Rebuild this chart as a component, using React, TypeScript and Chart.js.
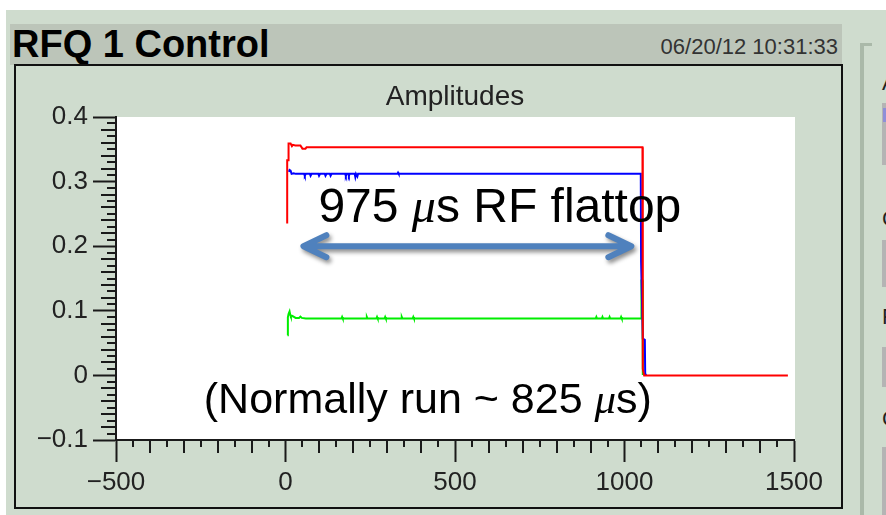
import React, { useEffect, useRef } from "react";
import { Chart, registerables } from "chart.js";

Chart.register(...registerables);

// ---------------- data ----------------
const redTime = [5, 5, 9, 9, 15, 19, 22, 29, 44, 50, 59, 62, 1053, 1054, 1058, 1482];
const redAmp = [0.235, 0.333, 0.333, 0.359, 0.359, 0.355, 0.357, 0.356, 0.356, 0.351, 0.351, 0.353, 0.353, 0.01, 0, 0];

const blueTime = [10, 12, 15, 18, 24, 30, 55, 57, 60, 72, 74, 77, 97, 99, 102, 116, 118, 121, 131, 133, 136, 176, 178, 180, 185, 187, 189, 204, 206, 208, 210, 212, 214, 330, 332, 334, 1048, 1049, 1054, 1060, 1061, 1064];
const blueAmp = [0.315, 0.318, 0.317, 0.312, 0.313, 0.312, 0.312, 0.309, 0.312, 0.312, 0.309, 0.312, 0.312, 0.309, 0.312, 0.312, 0.309, 0.312, 0.312, 0.309, 0.312, 0.312, 0.309, 0.312, 0.312, 0.309, 0.312, 0.312, 0.307, 0.312, 0.312, 0.308, 0.312, 0.312, 0.314, 0.312, 0.312, 0.175, 0.057, 0.055, 0.003, 0];

const greenTime = [6, 7, 9, 12, 14, 16, 20, 30, 40, 44, 48, 60, 165, 167, 169, 238, 240, 242, 268, 270, 272, 292, 294, 296, 341, 343, 345, 375, 377, 379, 915, 917, 919, 933, 935, 937, 954, 956, 958, 988, 990, 992, 1049, 1050, 1053, 1054, 1060];
const greenAmp = [0.062, 0.09, 0.095, 0.099, 0.094, 0.091, 0.092, 0.089, 0.089, 0.091, 0.089, 0.088, 0.088, 0.0905, 0.088, 0.088, 0.0905, 0.088, 0.088, 0.0905, 0.088, 0.088, 0.0905, 0.088, 0.088, 0.0905, 0.088, 0.088, 0.0905, 0.088, 0.088, 0.0905, 0.088, 0.088, 0.0905, 0.088, 0.088, 0.0905, 0.088, 0.088, 0.0905, 0.088, 0.088, 0.147, 0.147, 0.002, 0.002];

const xTicks = [-500, 0, 500, 1000, 1500];
const xTickLabels = ["\u2212500", "0", "500", "1000", "1500"];
const yTicks = [-0.1, 0, 0.1, 0.2, 0.3, 0.4];
const yTickLabels = ["\u22120.1", "0", "0.1", "0.2", "0.3", "0.4"];

// annotation anchors (data space)
const arrowFrom = 44;
const arrowTo = 1029;
const arrowLevel = 0.2;
const flattopText = ["975 ", "\u03bc", "s RF flattop"];
const flattopAt = [97, 0.2376];
const normalText = ["(Normally run ~ 825 ", "\u03bc", "s)"];
const normalAt = [-241, -0.058];

const FONT = "'Liberation Sans', Arial, sans-serif";

const toPoints = (t: number[], a: number[]) => t.map((v, i) => ({ x: v, y: a[i] }));

const plotBg = {
  id: "plotBg",
  beforeDraw(chart: any) {
    const { ctx, chartArea } = chart;
    ctx.save();
    ctx.fillStyle = "#ffffff";
    ctx.fillRect(chartArea.left, chartArea.top, chartArea.right - chartArea.left + 1, chartArea.bottom - chartArea.top);
    ctx.restore();
  },
};

const minorTicks = {
  id: "minorTicks",
  afterDraw(chart: any) {
    const { ctx, chartArea } = chart;
    const x = chart.scales.x;
    const y = chart.scales.y;
    ctx.save();
    ctx.strokeStyle = "#1a1a1a";
    ctx.lineWidth = 2;
    for (let k = -10; k <= 40; k++) {
      if (k % 10 === 0) continue;
      const py = Math.round(y.getPixelForValue(k / 100));
      const len = k % 2 === 0 ? 15 : 9;
      ctx.beginPath();
      ctx.moveTo(chartArea.left - len, py);
      ctx.lineTo(chartArea.left, py);
      ctx.stroke();
    }
    for (let k = -10; k <= 30; k++) {
      if (k % 10 === 0) continue;
      const px = Math.round(x.getPixelForValue(k * 50));
      const len = k % 2 === 0 ? 13 : 7;
      ctx.beginPath();
      ctx.moveTo(px, chartArea.bottom);
      ctx.lineTo(px, chartArea.bottom + len);
      ctx.stroke();
    }
    ctx.restore();
  },
};

function drawRich(ctx: CanvasRenderingContext2D, parts: string[], x0: number, base: number, size: number) {
  let cx = x0;
  parts.forEach((p, i) => {
    const italic = i === 1;
    ctx.font = italic ? `italic ${size}px 'Liberation Serif', serif` : `${size}px ${FONT}`;
    ctx.fillText(p, cx, base);
    cx += ctx.measureText(p).width;
  });
}

const annotations = {
  id: "annotations",
  afterDatasetsDraw(chart: any) {
    const { ctx } = chart;
    const x = chart.scales.x;
    const y = chart.scales.y;
    const x1 = x.getPixelForValue(arrowFrom) + 3;
    const x2 = x.getPixelForValue(arrowTo) - 3;
    const ay = y.getPixelForValue(arrowLevel);
    ctx.save();
    ctx.shadowColor = "rgba(0,0,0,0.45)";
    ctx.shadowBlur = 4;
    ctx.shadowOffsetX = 2;
    ctx.shadowOffsetY = 3;
    ctx.strokeStyle = "#4f81bd";
    ctx.lineWidth = 6;
    ctx.lineCap = "round";
    ctx.lineJoin = "round";
    ctx.beginPath();
    ctx.moveTo(x1 + 2, ay);
    ctx.lineTo(x2 - 2, ay);
    ctx.moveTo(x1 + 23, ay - 11);
    ctx.lineTo(x1, ay);
    ctx.lineTo(x1 + 23, ay + 11);
    ctx.moveTo(x2 - 23, ay - 11);
    ctx.lineTo(x2, ay);
    ctx.lineTo(x2 - 23, ay + 11);
    ctx.stroke();
    ctx.restore();

    ctx.save();
    ctx.fillStyle = "#000000";
    ctx.textBaseline = "alphabetic";
    ctx.textAlign = "left";
    drawRich(ctx, flattopText, x.getPixelForValue(flattopAt[0]), y.getPixelForValue(flattopAt[1]), 48);
    drawRich(ctx, normalText, x.getPixelForValue(normalAt[0]), y.getPixelForValue(normalAt[1]), 43);
    ctx.restore();
  },
};

export default function App() {
  const ref = useRef<HTMLCanvasElement | null>(null);

  useEffect(() => {
    if (!ref.current) return;
    const tickFont = { family: FONT, size: 26, weight: "normal" as const };
    const chart = new Chart(ref.current, {
      type: "line",
      data: {
        datasets: [
          { label: "red", data: toPoints(redTime, redAmp), borderColor: "#ff0000", borderWidth: 2, pointRadius: 0, tension: 0 },
          { label: "blue", data: toPoints(blueTime, blueAmp), borderColor: "#0000ff", borderWidth: 2, pointRadius: 0, tension: 0 },
          { label: "green", data: toPoints(greenTime, greenAmp), borderColor: "#00ee00", borderWidth: 2, pointRadius: 0, tension: 0 },
        ],
      },
      options: {
        animation: false,
        responsive: false,
        maintainAspectRatio: false,
        devicePixelRatio: 1,
        layout: { padding: { left: 0, right: 92, top: 0, bottom: 0 } },
        plugins: {
          legend: { display: false },
          tooltip: { enabled: false },
          title: {
            display: true,
            text: "Amplitudes",
            fullSize: false,
            color: "#222222",
            font: { family: FONT, size: 28, weight: "normal" },
            padding: { top: 80.2, bottom: 3.2 },
          },
        },
        scales: {
          x: {
            type: "linear",
            min: -500,
            max: 1500,
            afterBuildTicks: (s: any) => {
              s.ticks = xTicks.map((v) => ({ value: v }));
            },
            afterFit: (s: any) => {
              s.height = 75;
            },
            grid: { drawOnChartArea: false, drawTicks: true, tickLength: 22, tickColor: "#1a1a1a", tickWidth: 2 },
            border: { display: true, color: "#1a1a1a", width: 2 },
            ticks: {
              padding: 5,
              color: "#222222",
              font: tickFont,
              maxRotation: 0,
              autoSkip: false,
              callback: (_v: any, i: number) => xTickLabels[i],
            },
          },
          y: {
            type: "linear",
            min: -0.1,
            max: 0.4,
            afterBuildTicks: (s: any) => {
              s.ticks = yTicks.map((v) => ({ value: v }));
            },
            afterFit: (s: any) => {
              s.width = 116;
            },
            grid: { drawOnChartArea: false, drawTicks: true, tickLength: 23, tickColor: "#1a1a1a", tickWidth: 2 },
            border: { display: true, color: "#1a1a1a", width: 2 },
            ticks: {
              padding: 5,
              color: "#222222",
              font: tickFont,
              autoSkip: false,
              callback: (_v: any, i: number) => yTickLabels[i],
            },
          },
        },
      },
      plugins: [plotBg, minorTicks, annotations],
    });
    return () => chart.destroy();
  }, []);

  const box = (style: React.CSSProperties) => <div style={{ position: "absolute", ...style }} />;

  return (
    <div style={{ position: "fixed", left: 0, top: 0, width: 886, height: 515, overflow: "hidden", background: "#ffffff" }}>
      {box({ left: 6, top: 10, width: 880, height: 505, background: "#cfdcce" })}
      {box({ left: 10, top: 24, width: 832, height: 41, background: "#bcc5b9" })}
      <div style={{ position: "absolute", left: 12, top: 25, fontFamily: FONT, fontWeight: "bold", fontSize: 38, lineHeight: "38px", color: "#000", whiteSpace: "nowrap" }}>
        RFQ 1 Control
      </div>
      <div style={{ position: "absolute", right: 48, top: 36, fontFamily: FONT, fontSize: 22, lineHeight: "22px", color: "#333", whiteSpace: "nowrap" }}>
        06/20/12 10:31:33
      </div>
      {box({ left: 14, top: 64, width: 829, height: 445, border: "2px solid #111", boxSizing: "border-box" })}
      {box({ left: 860, top: 43, width: 4, height: 472, background: "#aab9a9" })}
      {box({ left: 860, top: 43, width: 12, height: 3, background: "#aab9a9" })}
      {box({ left: 882, top: 103, width: 4, height: 62, background: "#b4b4b4" })}
      {box({ left: 883, top: 108, width: 3, height: 14, background: "#8f8fd8" })}
      {box({ left: 882, top: 240, width: 4, height: 47, background: "#b4b4b4" })}
      {box({ left: 882, top: 347, width: 4, height: 40, background: "#b4b4b4" })}
      {box({ left: 882, top: 447, width: 4, height: 68, background: "#b4b4b4" })}
      {["A", "C", "P", "C"].map((c, i) => (
        <div key={i} style={{ position: "absolute", left: 882, top: [72, 208, 306, 408][i], fontFamily: FONT, fontSize: 22, lineHeight: "22px", color: "#222" }}>
          {c}
        </div>
      ))}
      <canvas ref={ref} width={886} height={515} style={{ position: "absolute", left: 0, top: 0, width: 886, height: 515, display: "block" }} />
    </div>
  );
}
